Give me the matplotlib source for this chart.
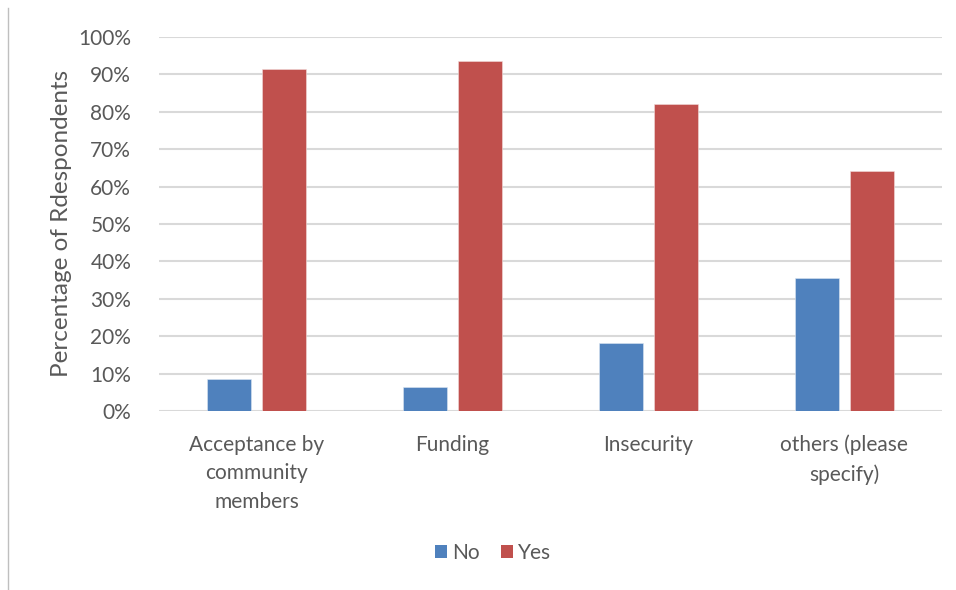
import matplotlib
matplotlib.use("Agg")
import matplotlib.pyplot as plt
from matplotlib.patches import Patch
from matplotlib.lines import Line2D
from matplotlib.ticker import PercentFormatter
import numpy as np

plt.rcParams['font.family'] = ['Lato', 'DejaVu Sans']

# values (fraction of respondents)
categories = ["Acceptance by\ncommunity\nmembers", "Funding", "Insecurity", "others (please\nspecify)"]
no_vals = [0.085, 0.063, 0.181, 0.356]
yes_vals = [0.914, 0.935, 0.821, 0.642]
series = ["No", "Yes"]
colors = ["#4f81bd", "#c0504d"]
grey = "#595959"

fig = plt.figure(figsize=(9.56, 5.90), dpi=100)
ax = fig.add_axes([159 / 956, 1 - 411 / 590, 783 / 956, 374 / 590])

x = np.arange(len(categories))
w = 0.225
off = 0.14
ax.bar(x - off, no_vals, width=w, color=colors[0], edgecolor="#dbe5f1", linewidth=0.4, zorder=3)
ax.bar(x + off, yes_vals, width=w, color=colors[1], edgecolor="#f2dcdb", linewidth=0.4, zorder=3)

ax.set_xlim(-0.5, len(categories) - 0.5)
ax.set_ylim(0, 1)
ax.set_yticks(np.arange(0, 1.01, 0.1))
ax.yaxis.set_major_formatter(PercentFormatter(1.0, decimals=0))
ax.grid(axis="y", color="#d9d9d9", linewidth=1.5, zorder=0)
for s in ax.spines.values():
    s.set_visible(False)

ax.tick_params(axis="y", length=0, pad=20, labelsize=15, labelcolor=grey)
ax.set_xticks(x)
ax.set_xticklabels(categories, linespacing=1.55)
ax.tick_params(axis="x", length=0, pad=17, labelsize=15, labelcolor=grey)

fig.text(62 / 956, 1 - 223 / 590, "Percentage of Rdespondents", rotation=90,
         ha="center", va="center", fontsize=17.5, color=grey)

handles = [Patch(facecolor=c, edgecolor="none") for c in colors]
fig.legend(handles, series, loc="center", bbox_to_anchor=(493 / 956, 1 - 553 / 590),
           ncol=2, frameon=False, fontsize=15, labelcolor=grey, handlelength=0.6,
           handleheight=0.6, handletextpad=0.25, columnspacing=1.0)

# thin frame line at the left edge of the image
fig.add_artist(Line2D([8 / 956, 8 / 956], [0, 1 - 8 / 590], color="#bfbfbf", linewidth=1))

fig.savefig("out.png", dpi=100)
